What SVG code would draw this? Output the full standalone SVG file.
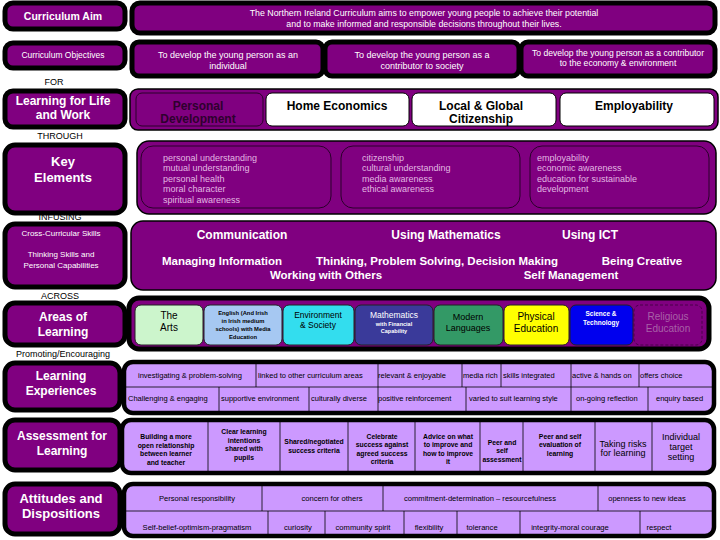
<svg xmlns="http://www.w3.org/2000/svg" width="720" height="540" viewBox="0 0 720 540">
<style>
.f{font-family:"Liberation Sans",Arial,sans-serif}
.n{font-family:"Liberation Sans Narrow","Liberation Sans",Arial,sans-serif;font-weight:bold}
.b{font-weight:bold}
.w{fill:#fff}
.k{fill:#000}
.m{text-anchor:middle}
.lbox{fill:#800080;stroke:#000;stroke-width:5}
.pbox{fill:#800080;stroke:#000;stroke-width:1.5}
.wbox{fill:#fff;stroke:#000;stroke-width:1}
.cell{fill:#cc99ff;stroke:#000;stroke-width:4.5}
.div{stroke:#000;stroke-width:0.8;fill:none}
.sub{stroke:#222;stroke-width:1}
.ke{fill:#e2b8e2;font-size:9px}
.lab{font-size:9px;fill:#000}
.le{font-size:7.5px;fill:#000}
.af{font-size:6.8px;fill:#000;font-weight:bold}
.ad{font-size:7.6px;fill:#000}
</style>
<rect width="720" height="540" fill="#fff"/>

<g id="aim-label"><rect class="lbox" x="5" y="3" width="120" height="26" rx="8"/><text class="f b w m" x="63" y="20" font-size="10.5">Curriculum Aim</text></g>
<g id="aim"><rect class="lbox" x="132" y="3" width="583" height="30" rx="8"/>
<text class="f w m" x="424" y="16" font-size="8.8">The Northern Ireland Curriculum aims to empower young people to achieve their potential</text>
<text class="f w m" x="424" y="27" font-size="8.8">and to make informed and responsible decisions throughout their lives.</text></g>

<g id="objectives-label"><rect class="lbox" x="5" y="43" width="120" height="25" rx="8"/><text class="f w m" x="63" y="58" font-size="8.5">Curriculum Objectives</text></g>
<g id="obj1"><rect class="lbox" x="132" y="42" width="191" height="34" rx="7"/><text class="f w m" x="228" y="58" font-size="9">To develop the young person as an</text><text class="f w m" x="228" y="69" font-size="9">individual</text></g>
<g id="obj2"><rect class="lbox" x="325" y="42" width="194" height="34" rx="7"/><text class="f w m" x="422" y="58" font-size="9">To develop the young person as a</text><text class="f w m" x="422" y="69" font-size="9">contributor to society</text></g>
<g id="obj3"><rect class="lbox" x="521" y="42" width="194" height="34" rx="7"/><text class="f w m" x="618" y="56" font-size="8.6">To develop the young person as a contributor</text><text class="f w m" x="618" y="66" font-size="8.6">to the economy &amp; environment</text></g>

<text class="f lab m" x="54" y="85">FOR</text>
<g id="lflw-label"><rect class="lbox" x="5" y="91" width="120" height="36" rx="8"/><text class="n w m" x="63" y="105" font-size="12">Learning for Life</text><text class="n w m" x="63" y="119" font-size="12">and Work</text></g>
<g id="lflw"><rect class="pbox" x="130" y="89" width="588" height="41" rx="8"/>
<rect x="136" y="93" width="127" height="33" rx="6" fill="#800080" stroke="#2a002a" stroke-width="1"/><text class="n m" x="198" y="110" font-size="12" fill="#2e002e">Personal</text><text class="n m" x="198" y="123" font-size="12" fill="#2e002e">Development</text>
<rect class="wbox" x="266" y="93" width="143" height="33" rx="6"/><text class="n k m" x="337" y="110" font-size="12">Home Economics</text>
<rect class="wbox" x="412" y="93" width="144" height="33" rx="6"/><text class="n k m" x="481" y="110" font-size="12">Local &amp; Global</text><text class="n k m" x="481" y="123" font-size="12">Citizenship</text>
<rect class="wbox" x="560" y="93" width="154" height="33" rx="6"/><text class="n k m" x="634" y="110" font-size="12">Employability</text></g>

<text class="f lab m" x="60" y="139">THROUGH</text>
<g id="ke-label"><rect class="lbox" x="5" y="145" width="120" height="68" rx="10"/><text class="f b w m" x="63" y="166" font-size="13">Key</text><text class="f b w m" x="63" y="182" font-size="13">Elements</text></g>
<g id="ke"><rect class="pbox" x="137" y="141" width="579" height="73" rx="12"/>
<rect x="141" y="146" width="190" height="62" rx="12" fill="none" stroke="#2a002a"/>
<rect x="341" y="146" width="179" height="62" rx="12" fill="none" stroke="#2a002a"/>
<rect x="530" y="146" width="179" height="62" rx="12" fill="none" stroke="#2a002a"/>
<text class="f ke" x="163" y="161">personal understanding</text><text class="f ke" x="163" y="171">mutual understanding</text><text class="f ke" x="163" y="182">personal health</text><text class="f ke" x="163" y="192">moral character</text><text class="f ke" x="163" y="203">spiritual awareness</text>
<text class="f ke" x="362" y="161">citizenship</text><text class="f ke" x="362" y="171">cultural understanding</text><text class="f ke" x="362" y="182">media awareness</text><text class="f ke" x="362" y="192">ethical awareness</text>
<text class="f ke" x="537" y="161">employability</text><text class="f ke" x="537" y="171">economic awareness</text><text class="f ke" x="537" y="182">education for sustainable</text><text class="f ke" x="537" y="192">development</text></g>

<text class="f lab m" x="60" y="220">INFUSING</text>
<g id="ccs-label"><rect class="lbox" x="5" y="224" width="120" height="63" rx="10"/><text class="f w m" x="61" y="236" font-size="8">Cross-Curricular Skills</text><text class="f w m" x="61" y="257" font-size="8">Thinking Skills and</text><text class="f w m" x="61" y="268" font-size="8">Personal Capabilities</text></g>
<g id="ccs"><rect class="pbox" x="131" y="221" width="585" height="69" rx="12"/>
<text class="n w m" x="242" y="239" font-size="12">Communication</text><text class="n w m" x="446" y="239" font-size="12">Using Mathematics</text><text class="n w m" x="590" y="239" font-size="12">Using ICT</text>
<text class="n w m" x="222" y="265" font-size="11.5">Managing Information</text><text class="n w m" x="437" y="265" font-size="11.5">Thinking, Problem Solving, Decision Making</text><text class="n w m" x="642" y="265" font-size="11.5">Being Creative</text>
<text class="n w m" x="326" y="279" font-size="11.5">Working with Others</text><text class="n w m" x="571" y="279" font-size="11.5">Self Management</text></g>

<text class="f lab m" x="60" y="299">ACROSS</text>
<g id="aol-label"><rect class="lbox" x="5" y="303" width="120" height="42" rx="10"/><text class="f b w m" x="63" y="321" font-size="12">Areas of</text><text class="f b w m" x="63" y="336" font-size="12">Learning</text></g>
<g id="aol"><rect class="lbox" x="129" y="298" width="580" height="51" rx="10"/>
<rect class="sub" x="135" y="305" width="68" height="40" rx="6" fill="#ccf5cc"/><text class="f k m" x="169" y="319" font-size="10">The</text><text class="f k m" x="169" y="331" font-size="10">Arts</text>
<rect class="sub" x="204" y="305" width="78" height="40" rx="6" fill="#a6c8f2"/><text class="f b k m" x="243" y="315" font-size="5.8">English (And Irish</text><text class="f b k m" x="243" y="323" font-size="5.8">in Irish medium</text><text class="f b k m" x="243" y="331" font-size="5.8">schools) with Media</text><text class="f b k m" x="243" y="339" font-size="5.8">Education</text>
<rect class="sub" x="283" y="305" width="71" height="40" rx="6" fill="#33ddee"/><text class="f k m" x="318" y="318" font-size="8.5">Environment</text><text class="f k m" x="318" y="328" font-size="8.5">&amp; Society</text>
<rect class="sub" x="355" y="305" width="78" height="40" rx="6" fill="#3a3a9a"/><text class="f w m" x="394" y="318" font-size="8.5">Mathematics</text><text class="f b w m" x="394" y="326" font-size="5.5">with Financial</text><text class="f b w m" x="394" y="333" font-size="5.5">Capability</text>
<rect class="sub" x="434" y="305" width="69" height="40" rx="6" fill="#339966"/><text class="f k m" x="468" y="320" font-size="9">Modern</text><text class="f k m" x="468" y="331" font-size="9">Languages</text>
<rect class="sub" x="504" y="305" width="65" height="40" rx="6" fill="#ffff00"/><text class="f k m" x="536" y="320" font-size="10">Physical</text><text class="f k m" x="536" y="332" font-size="10">Education</text>
<rect class="sub" x="570" y="305" width="63" height="40" rx="6" fill="#0000ee"/><text class="f b w m" x="601" y="316" font-size="6.5">Science &amp;</text><text class="f b w m" x="601" y="325" font-size="6.5">Technology</text>
<rect x="634" y="305" width="68" height="40" rx="6" fill="#800080" stroke="#4a004a" stroke-dasharray="3,2"/><text class="f m" x="668" y="320" font-size="10" fill="#a860a8">Religious</text><text class="f m" x="668" y="332" font-size="10" fill="#a860a8">Education</text></g>

<text class="f lab m" x="63" y="357">Promoting/Encouraging</text>
<g id="le-label"><rect class="lbox" x="5" y="363" width="115" height="47" rx="10"/><text class="f b w m" x="61" y="380" font-size="12">Learning</text><text class="f b w m" x="61" y="395" font-size="12">Experiences</text></g>
<g id="le"><rect class="cell" x="124" y="362" width="590" height="51" rx="9"/>
<path class="div" d="M126 387H712M256 364V387M378 364V387M462 364V387M501 364V387M571 364V387M639 364V387M219 387V411M309 387V411M378 387V411M466 387V411M571 387V411M648 387V411"/>
<text class="f le" x="138" y="378">investigating &amp; problem-solving</text><text class="f le" x="258" y="378">linked to other curriculum areas</text><text class="f le" x="378" y="378">relevant &amp; enjoyable</text><text class="f le" x="463" y="378">media rich</text><text class="f le" x="503" y="378">skills integrated</text><text class="f le" x="572" y="378">active &amp; hands on</text><text class="f le" x="640" y="378">offers choice</text>
<text class="f le" x="128" y="401">Challenging &amp; engaging</text><text class="f le" x="221" y="401">supportive environment</text><text class="f le" x="311" y="401">culturally diverse</text><text class="f le" x="378" y="401">positive reinforcement</text><text class="f le" x="469" y="401">varied to suit learning style</text><text class="f le" x="576" y="401">on-going reflection</text><text class="f le" x="656" y="401">enquiry based</text></g>

<g id="afl-label"><rect class="lbox" x="5" y="420" width="115" height="50" rx="10"/><text class="f b w m" x="62" y="440" font-size="12">Assessment for</text><text class="f b w m" x="62" y="455" font-size="12">Learning</text></g>
<g id="afl"><rect class="cell" x="122" y="420" width="592" height="53" rx="9"/>
<path class="div" d="M208 422V471M280 422V471M348 422V471M415 422V471M480 422V471M523 422V471M595 422V471M652 422V471"/>
<text class="f af m" x="166" y="439">Building a more</text><text class="f af m" x="166" y="448">open relationship</text><text class="f af m" x="166" y="456">between learner</text><text class="f af m" x="166" y="465">and teacher</text>
<text class="f af m" x="244" y="434">Clear learning</text><text class="f af m" x="244" y="443">intentions</text><text class="f af m" x="244" y="451">shared with</text><text class="f af m" x="244" y="460">pupils</text>
<text class="f af m" x="314" y="444">Shared/negotiated</text><text class="f af m" x="314" y="453">success criteria</text>
<text class="f af m" x="382" y="439">Celebrate</text><text class="f af m" x="382" y="447">success against</text><text class="f af m" x="382" y="456">agreed success</text><text class="f af m" x="382" y="464">criteria</text>
<text class="f af m" x="448" y="439">Advice on what</text><text class="f af m" x="448" y="447">to improve and</text><text class="f af m" x="448" y="456">how to improve</text><text class="f af m" x="448" y="464">it</text>
<text class="f af m" x="502" y="445">Peer and</text><text class="f af m" x="502" y="453">self</text><text class="f af m" x="502" y="462">assessment</text>
<text class="f af m" x="560" y="439">Peer and self</text><text class="f af m" x="560" y="447">evaluation of</text><text class="f af m" x="560" y="456">learning</text>
<text class="f m k" x="623" y="447" font-size="9">Taking risks</text><text class="f m k" x="623" y="456" font-size="9">for learning</text>
<text class="f m k" x="681" y="440" font-size="9">Individual</text><text class="f m k" x="681" y="450" font-size="9">target</text><text class="f m k" x="681" y="460" font-size="9">setting</text></g>

<g id="ad-label"><rect class="lbox" x="5" y="484" width="115" height="50" rx="10"/><text class="n w m" x="61" y="503" font-size="13">Attitudes and</text><text class="n w m" x="61" y="518" font-size="13">Dispositions</text></g>
<g id="ad"><rect class="cell" x="124" y="484" width="590" height="52" rx="9"/>
<path class="div" d="M126 511H712M262 486V511M383 486V511M598 486V511M268 511V534M325 511V534M404 511V534M457 511V534M520 511V534M640 511V534"/>
<text class="f ad m" x="197" y="501">Personal responsibility</text><text class="f ad m" x="332" y="501">concern for others</text><text class="f ad m" x="480" y="501">commitment-determination – resourcefulness</text><text class="f ad m" x="647" y="501">openness to new ideas</text>
<text class="f ad m" x="197" y="530">Self-belief-optimism-pragmatism</text><text class="f ad m" x="298" y="530">curiosity</text><text class="f ad m" x="363" y="530">community spirit</text><text class="f ad m" x="429" y="530">flexibility</text><text class="f ad m" x="482" y="530">tolerance</text><text class="f ad m" x="570" y="530">integrity-moral courage</text><text class="f ad m" x="659" y="530">respect</text></g>
</svg>
